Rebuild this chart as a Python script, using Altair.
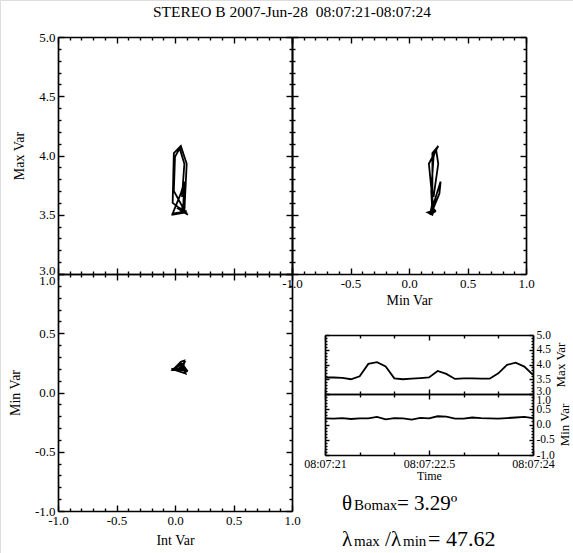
import altair as alt
import pandas as pd

title_text = "STEREO B 2007-Jun-28\u00a0 08:07:21-08:07:24"

# time in seconds after 08:07:21
t_sec = [0.0, 0.125, 0.25, 0.375, 0.5, 0.625, 0.75, 0.875, 1.0, 1.125, 1.25, 1.375, 1.5,
         1.625, 1.75, 1.875, 2.0, 2.125, 2.25, 2.375, 2.5, 2.625, 2.75, 2.875, 3.0]
b_max = [3.56, 3.56, 3.55, 3.50, 3.60, 4.02, 4.08, 3.93, 3.53, 3.50, 3.52, 3.54, 3.56,
         3.78, 3.68, 3.51, 3.53, 3.53, 3.52, 3.52, 3.70, 3.99, 4.06, 3.93, 3.65]
b_int = [0.06, 0.09, 0.03, 0.11, -0.02, -0.01, 0.05, 0.10, 0.08, -0.03, 0.09, 0.06, 0.07,
         0.08, 0.05, -0.02, 0.10, 0.07, 0.04, 0.09, -0.01, 0.00, 0.04, 0.08, 0.06]
b_min = [0.20, 0.19, 0.21, 0.18, 0.20, 0.20, 0.25, 0.17, 0.21, 0.20, 0.16, 0.22, 0.20,
         0.27, 0.26, 0.19, 0.19, 0.23, 0.21, 0.20, 0.19, 0.21, 0.23, 0.25, 0.21]

major_main = [-1.0, -0.5, 0.0, 0.5, 1.0]
major_max = [3.0, 3.5, 4.0, 4.5, 5.0]
minor_main = [round(-1 + 0.1 * i, 1) for i in range(21)]
minor_max = [round(3 + 0.1 * i, 1) for i in range(21)]
time_major = [0, 1.5, 3]
time_minor = [0, 0.5, 1, 1.5, 2, 2.5, 3]

df = pd.DataFrame({"t": t_sec, "bmax": b_max, "bint": b_int, "bmin": b_min})

W, H = 573, 553
FONT = "Liberation Serif"

L, M, R = 58, 292, 526
T, MID, B = 37, 274, 511
TS_L, TS_R = 325, 533
TS_T, TS_M, TS_B = 335, 394, 455

MAJ_TEST = "abs(datum.value*2 - round(datum.value*2)) < 0.001"
TIME_TEST = "abs(datum.value/1.5 - round(datum.value/1.5)) < 0.001"


def sc(domain, rng):
    return alt.Scale(domain=domain, range=rng, nice=False, zero=False)


def offset_for(orient, pos):
    if orient == "bottom":
        return pos - H
    if orient == "top":
        return -pos
    if orient == "left":
        return -pos
    return pos - W


def tick_axis(orient, pos, values, test=MAJ_TEST, major=6, minor=3):
    # long ticks for majors, minor ticks shortened via a dash pattern starting at the axis line
    return alt.Axis(
        orient=orient, offset=offset_for(orient, pos), values=values,
        labels=False, title=None, grid=False,
        domain=True, domainColor="black", domainWidth=1.7,
        ticks=True, tickColor="black", tickWidth=1.4, tickSize=major,
        tickDash={"condition": {"test": test, "value": [20, 0]}, "value": [minor, 30]},
    )


def label_axis(orient, pos, values, title, expr=None, size=13, tsize=14, tpad=8,
               angle=None, tbase=None, shift_val=None, shift_base=None):
    kw = dict(
        orient=orient, offset=offset_for(orient, pos), values=values,
        labels=True, ticks=False, tickSize=0, domain=False, grid=False,
        labelFont=FONT, labelFontSize=size, labelColor="black", labelPadding=3,
        labelOverlap=False, labelFlush=False,
        labelExpr=expr if expr else "replace(format(datum.value, '.1f'), '\u2212', '-')",
        title=title, titleFont=FONT, titleFontSize=tsize, titleFontWeight="normal",
        titleColor="black", titlePadding=tpad,
    )
    if angle is not None:
        kw["titleAngle"] = angle
    if tbase is not None:
        kw["titleBaseline"] = tbase
    if shift_val is not None:
        kw["labelBaseline"] = {
            "condition": {"test": f"abs(datum.value - ({shift_val})) < 0.001", "value": shift_base},
            "value": "middle",
        }
    return alt.Axis(**kw)


def layer(xf, yf, xs, ys, xaxis, yaxis, visible=False, width=1.8):
    return alt.Chart(df).mark_line(
        color="black", strokeWidth=width, opacity=1 if visible else 0
    ).encode(
        x=alt.X(f"{xf}:Q", scale=xs, axis=xaxis),
        y=alt.Y(f"{yf}:Q", scale=ys, axis=yaxis),
        order="t:Q",
    )


layers = []

# Top-left: Int vs Max
xs, ys = sc([-1, 1], [L, M]), sc([3, 5], [MID, T])
layers += [
    layer("bint", "bmax", xs, ys, tick_axis("bottom", T, minor_main), tick_axis("right", L, minor_max), True),
    layer("bint", "bmax", xs, ys, tick_axis("top", MID, minor_main), tick_axis("left", M, minor_max)),
    layer("bint", "bmax", xs, ys, None,
          label_axis("left", L, major_max, "Max Var", tpad=12, shift_val=3, shift_base="alphabetic")),
]

# Top-right: Min vs Max
xs, ys = sc([-1, 1], [M, R]), sc([3, 5], [MID, T])
layers += [
    layer("bmin", "bmax", xs, ys, tick_axis("bottom", T, minor_main), tick_axis("right", M, minor_max), True),
    layer("bmin", "bmax", xs, ys, tick_axis("top", MID, minor_main), tick_axis("left", R, minor_max)),
    layer("bmin", "bmax", xs, ys, label_axis("bottom", MID, major_main, "Min Var", tpad=3), None),
]

# Bottom-left: Int vs Min
xs, ys = sc([-1, 1], [L, M]), sc([-1, 1], [B, MID])
layers += [
    layer("bint", "bmin", xs, ys, tick_axis("bottom", MID, minor_main), tick_axis("right", L, minor_main), True),
    layer("bint", "bmin", xs, ys, tick_axis("top", B, minor_main), tick_axis("left", M, minor_main)),
    layer("bint", "bmin", xs, ys, label_axis("bottom", B, major_main, "Int Var", tpad=6),
          label_axis("left", L, major_main, "Min Var", tpad=12, shift_val=1, shift_base="top")),
]

# Time series: Max Var
xs, ys = sc([0, 3], [TS_L, TS_R]), sc([3, 5], [TS_M, TS_T])
layers += [
    layer("t", "bmax", xs, ys, tick_axis("bottom", TS_T, time_minor, TIME_TEST, 5, 3),
          tick_axis("right", TS_L, minor_max, MAJ_TEST, 4, 2), True),
    layer("t", "bmax", xs, ys, tick_axis("top", TS_M, time_minor, TIME_TEST, 5, 3),
          tick_axis("left", TS_R, minor_max, MAJ_TEST, 4, 2)),
    layer("t", "bmax", xs, ys, None,
          label_axis("right", TS_R, major_max, "Max Var", size=11.5, tsize=13, tpad=4, angle=270,
                     tbase="top", shift_val=3, shift_base="alphabetic")),
]

# Time series: Min Var
xs, ys = sc([0, 3], [TS_L, TS_R]), sc([-1, 1], [TS_B, TS_M])
layers += [
    layer("t", "bmin", xs, ys, tick_axis("bottom", TS_M, time_minor, TIME_TEST, 5, 3),
          tick_axis("right", TS_L, minor_main, MAJ_TEST, 4, 2), True),
    layer("t", "bmin", xs, ys, tick_axis("top", TS_B, time_minor, TIME_TEST, 5, 3),
          tick_axis("left", TS_R, minor_main, MAJ_TEST, 4, 2)),
    layer("t", "bmin", xs, ys,
          label_axis("bottom", TS_B, time_major, "Time", expr="'08:07:' + (21 + datum.value)",
                     size=12, tsize=12, tpad=1),
          label_axis("right", TS_R, major_main, "Min Var", size=11.5, tsize=13, tpad=4, angle=270,
                     tbase="top", shift_val=1, shift_base="top")),
]


def text_piece(s, x, y, size, align="left", baseline="alphabetic"):
    return alt.Chart(pd.DataFrame({"s": [s]})).mark_text(
        font=FONT, fontSize=size, color="black", align=align, baseline=baseline
    ).encode(text="s:N", x=alt.value(x), y=alt.value(y))


layers.append(text_piece(title_text, 292, 17, 15.5, align="center"))

line1_y, line2_y = 510, 546
layers += [
    text_piece("\u03b8", 342, line1_y, 21),
    text_piece("Bomax", 354, line1_y, 15),
    text_piece("= 3.29\u00ba", 397, line1_y, 21),
    text_piece("\u03bb", 342, line2_y, 21),
    text_piece("max", 354, line2_y, 15),
    text_piece("/", 385, line2_y, 21),
    text_piece("\u03bb", 391, line2_y, 21),
    text_piece("min", 403, line2_y, 15),
    text_piece("= 47.62", 428, line2_y, 22),
]

chart = alt.layer(*layers).resolve_scale(
    x="independent", y="independent"
).resolve_axis(
    x="independent", y="independent"
).properties(
    width=W, height=H, padding=0, autosize=alt.AutoSizeParams(type="none")
).configure_view(stroke=None).configure(background="white")

chart.save("out.html", embed_options={"renderer": "svg", "actions": False})
